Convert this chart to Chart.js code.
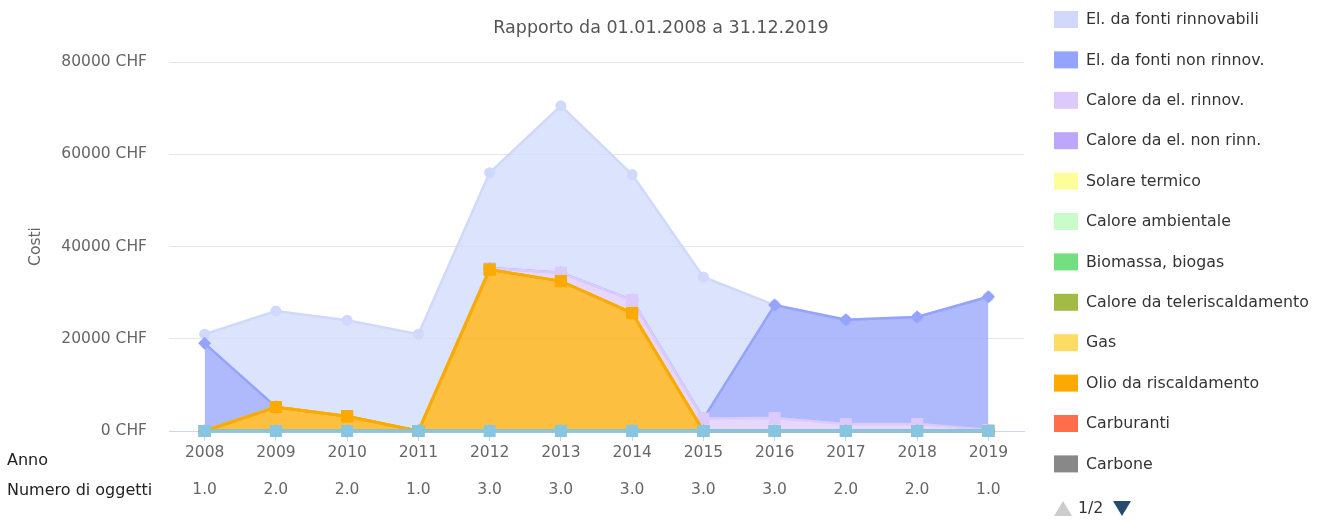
<!DOCTYPE html>
<html>
<head>
<meta charset="utf-8">
<script src="https://cdn.jsdelivr.net/npm/chart.js@4"></script>
<style>
  body { margin: 0; background: #fff; }
  #wrap { position: relative; width: 1322px; height: 521px; }
</style>
</head>
<body>
<div id="wrap"><canvas id="myAreaChart" width="1322" height="521"></canvas></div>
<script>
const FONT = '"DejaVu Sans", Verdana, sans-serif';

const years = ['2008', '2009', '2010', '2011', '2012', '2013', '2014', '2015', '2016', '2017', '2018', '2019'];
const objectCounts = [1.0, 2.0, 2.0, 1.0, 3.0, 3.0, 3.0, 3.0, 3.0, 2.0, 2.0, 1.0];

// costs in CHF per series (stacked, first series on top)
const elRinnovabili   = [2000, 20800, 20800, 21000, 20700, 36200, 27200, 30700, 0, 0, 0, 0];
const elNonRinnov     = [19000, 0, 0, 0, 0, 0, 0, 0, 24500, 22600, 23200, 28900];
const caloreElRinnov  = [0, 0, 0, 0, 300, 1800, 2800, 2700, 2800, 1500, 1500, 200];
const caloreElNonRinn = [0, 0, 0, 0, 0, 0, 0, 0, 0, 0, 0, 0];
const solareTermico   = [0, 0, 0, 0, 0, 0, 0, 0, 0, 0, 0, 0];
const caloreAmbiente  = [0, 0, 0, 0, 0, 0, 0, 0, 0, 0, 0, 0];
const biomassa        = [0, 0, 0, 0, 0, 0, 0, 0, 0, 0, 0, 0];
const teleriscald     = [0, 0, 0, 0, 0, 0, 0, 0, 0, 0, 0, 0];
const gas             = [0, 0, 0, 0, 0, 0, 0, 0, 0, 0, 0, 0];
const olio            = [0, 5200, 3200, 0, 35000, 32500, 25600, 0, 0, 0, 0, 0];
const carburanti      = [0, 0, 0, 0, 0, 0, 0, 0, 0, 0, 0, 0];
const carbone         = [0, 0, 0, 0, 0, 0, 0, 0, 0, 0, 0, 0];
const altro           = [0, 0, 0, 0, 0, 0, 0, 0, 0, 0, 0, 0];

const seriesNames = ['El. da fonti rinnovabili', 'El. da fonti non rinnov.', 'Calore da el. rinnov.',
  'Calore da el. non rinn.', 'Solare termico', 'Calore ambientale', 'Biomassa, biogas',
  'Calore da teleriscaldamento', 'Gas', 'Olio da riscaldamento', 'Carburanti', 'Carbone', 'Altro'];
const seriesValues = [elRinnovabili, elNonRinnov, caloreElRinnov, caloreElNonRinn, solareTermico,
  caloreAmbiente, biomassa, teleriscald, gas, olio, carburanti, carbone, altro];
const seriesColors = ['#d0d9fc', '#94a3fc', '#dccafd', '#bca7fb', '#fdfd9b', '#c8fcc8', '#73e07f',
  '#a2bb45', '#fedb65', '#fcaa00', '#ff6e4a', '#888888', '#87c6e2'];
const markers = ['circle', 'rectRot', 'rect', 'triangle', 'triangle', 'circle', 'rectRot',
  'rect', 'triangle', 'rect', 'circle', 'rectRot', 'rect'];
const markerSize = { circle: 5.5, rectRot: 6.5, rect: 8.5, triangle: 5 };

function fade(hex, a) {
  const n = parseInt(hex.slice(1), 16);
  return 'rgba(' + (n >> 16) + ',' + ((n >> 8) & 255) + ',' + (n & 255) + ',' + a + ')';
}

const datasets = seriesNames.map((name, i) => ({
  label: name,
  data: seriesValues[i],
  borderColor: seriesColors[i],
  backgroundColor: fade(seriesColors[i], 0.75),
  pointBackgroundColor: seriesColors[i],
  pointBorderWidth: 0,
  pointStyle: markers[i],
  pointRadius: markerSize[markers[i]],
  borderWidth: name === 'Olio da riscaldamento' ? 3 : (name === 'Altro' ? 3.5 : 2.5),
  fill: 'stack',
  tension: 0,
  clip: false,
  order: seriesNames.length - i
}));

const extras = {
  id: 'extras',
  afterDraw(chart) {
    const ctx = chart.ctx;
    const xs = chart.scales.x;
    ctx.save();
    ctx.textBaseline = 'middle';
    // title
    ctx.font = '17.5px ' + FONT;
    ctx.fillStyle = '#555';
    ctx.textAlign = 'center';
    ctx.fillText('Rapporto da 01.01.2008 a 31.12.2019', chart.width / 2, 28);
    // second row of labels
    ctx.font = '15.5px ' + FONT;
    ctx.fillStyle = '#666';
    objectCounts.forEach((v, i) => ctx.fillText(v.toFixed(1), xs.getPixelForValue(i), 490));
    ctx.textAlign = 'left';
    ctx.fillStyle = '#222';
    ctx.font = '16px ' + FONT;
    ctx.fillText('Anno', 7, 461);
    ctx.fillText('Numero di oggetti', 7, 491);
    // legend, page 1
    ctx.font = '15.8px ' + FONT;
    seriesNames.slice(0, 12).forEach((n, i) => {
      const y = 19 + i * 40.4;
      ctx.fillStyle = seriesColors[i];
      ctx.fillRect(1054, y - 8, 24, 17);
      ctx.fillStyle = '#333';
      ctx.fillText(n, 1086, y + 1);
    });
    // pager
    ctx.fillStyle = '#cccccc';
    ctx.beginPath();
    ctx.moveTo(1054, 516); ctx.lineTo(1072, 516); ctx.lineTo(1063, 501); ctx.closePath(); ctx.fill();
    ctx.fillStyle = '#333';
    ctx.fillText('1/2', 1078, 509);
    ctx.fillStyle = '#274b6d';
    ctx.beginPath();
    ctx.moveTo(1113, 501); ctx.lineTo(1131, 501); ctx.lineTo(1122, 516); ctx.closePath(); ctx.fill();
    ctx.restore();
  }
};

const ctx1 = document.getElementById('myAreaChart').getContext('2d');
new Chart(ctx1, {
  type: 'line',
  data: { labels: years, datasets: datasets },
  options: {
    responsive: false,
    animation: false,
    layout: { padding: { top: 62, right: 298, left: 0, bottom: 0 } },
    plugins: {
      legend: { display: false },
      title: { display: false },
      tooltip: { enabled: false }
    },
    scales: {
      x: {
        offset: true,
        grid: { drawOnChartArea: false, drawTicks: true, tickLength: 10, tickColor: '#ccd6eb', offset: false },
        border: { color: '#ccd6eb', width: 1 },
        ticks: { color: '#666', font: { family: FONT, size: 15.5 }, padding: 3, maxRotation: 0, autoSkip: false },
        afterFit(scale) { scale.height = 90; }
      },
      y: {
        stacked: true,
        min: 0,
        max: 80000,
        grid: { color: '#e6e6e6', drawTicks: false },
        border: { display: false },
        ticks: {
          stepSize: 20000,
          color: '#666',
          font: { family: FONT, size: 15.5 },
          padding: 22,
          callback: v => v + ' CHF'
        },
        title: { display: true, text: 'Costi', color: '#666', font: { family: FONT, size: 15.5 }, padding: { top: 27 } },
        afterFit(scale) { scale.width = 169; }
      }
    }
  },
  plugins: [extras]
});
</script>
</body>
</html>
